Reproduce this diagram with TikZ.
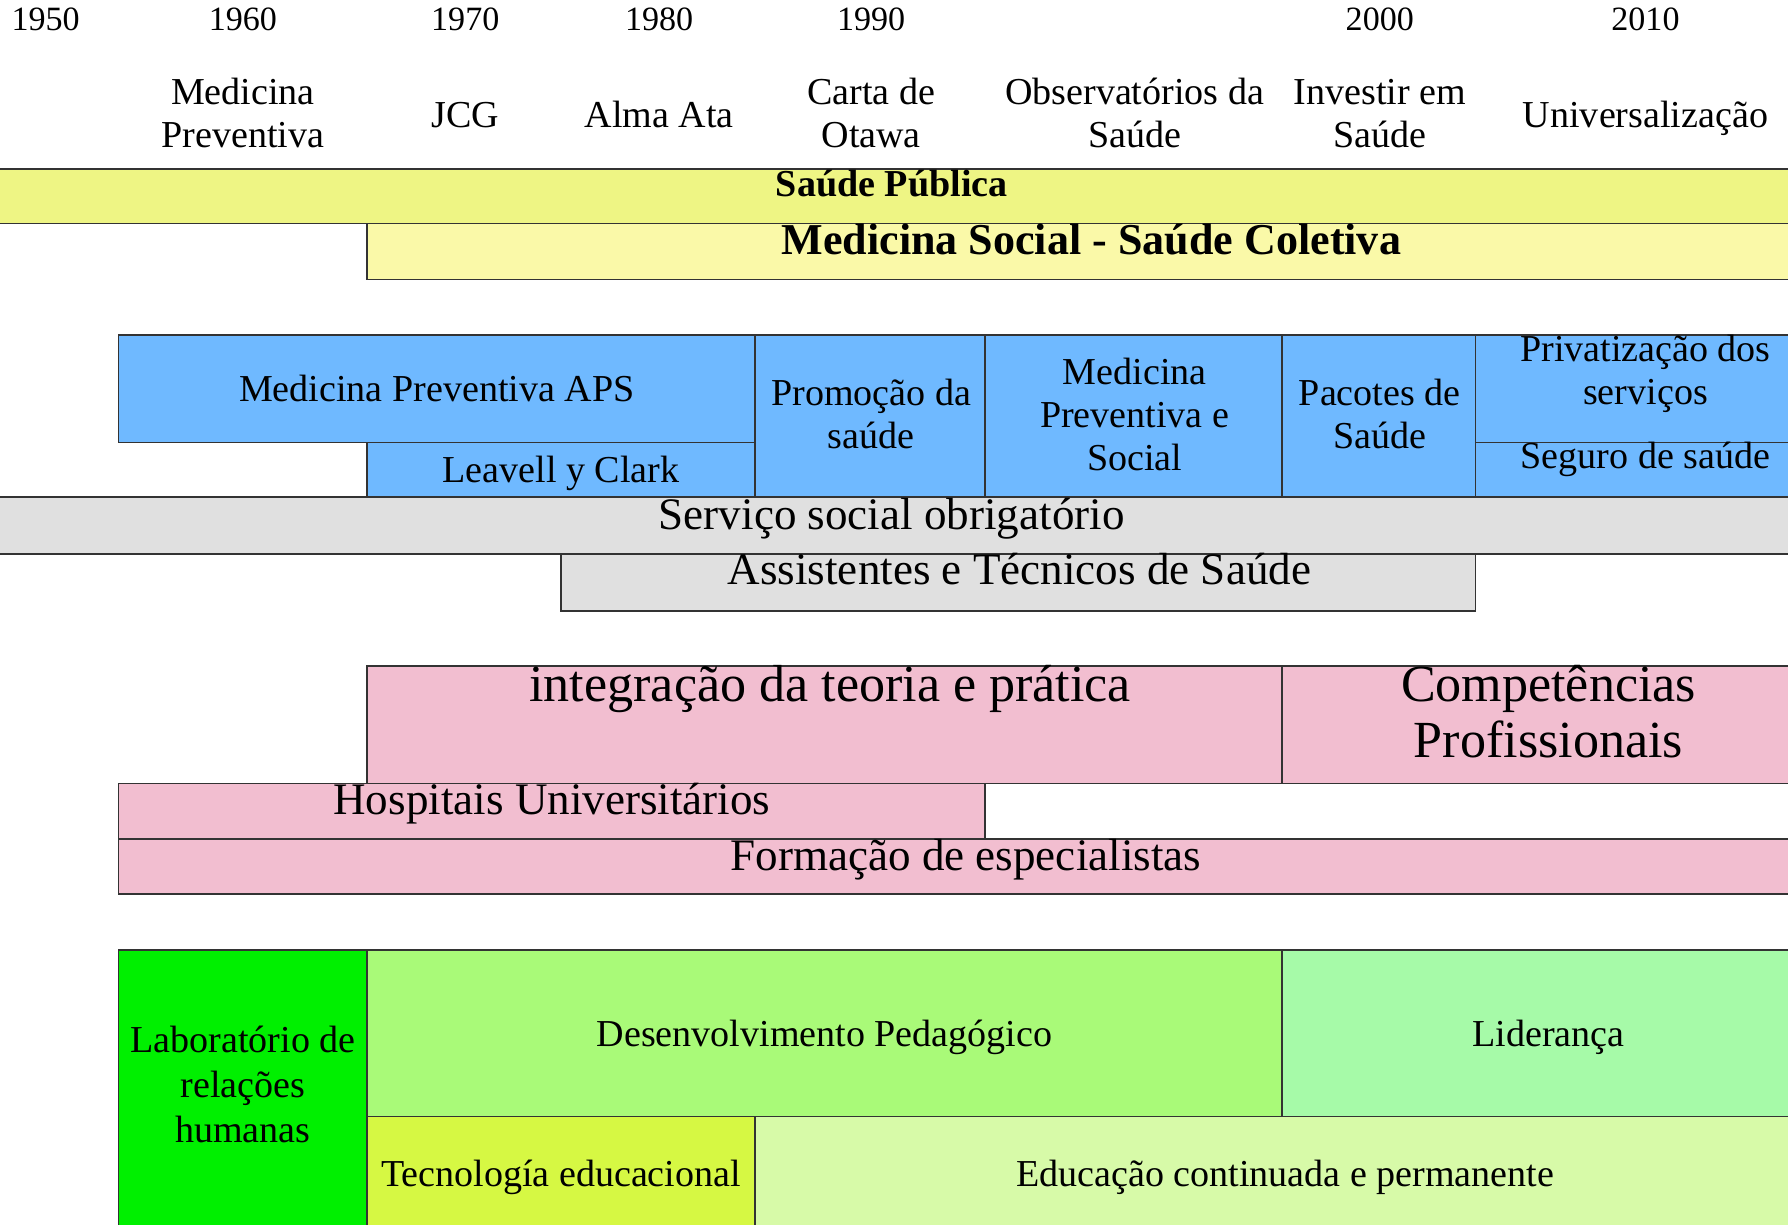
\documentclass[tikz,border=0pt]{standalone}
\usepackage{fontspec}
\setmainfont{Liberation Serif}
\usepackage{tikz}
\definecolor{sp-yellow}{HTML}{EEF584}
\definecolor{ms-yellow}{HTML}{FAF9A8}
\definecolor{aps-blue}{HTML}{6FB9FF}
\definecolor{ss-gray}{HTML}{E0E0E0}
\definecolor{hu-pink}{HTML}{F2BED0}
\definecolor{lab-green}{HTML}{00F000}
\definecolor{dp-green}{HTML}{A9FA78}
\definecolor{lid-green}{HTML}{A6FAA8}
\definecolor{te-green}{HTML}{D6F843}
\definecolor{ec-green}{HTML}{D7FAA8}

\begin{document}
\begin{tikzpicture}[x=0.02cm, y=-0.02cm, font=\fontsize{19}{21.5}\selectfont,
    box/.style={draw=black!80, line width=0.8pt},
    lbl/.style={anchor=base, align=center, inner sep=0pt},
    yr/.style={lbl, font=\fontsize{17}{20}\selectfont},
    mid/.style={lbl, font=\fontsize{22.5}{26}\selectfont},
    big/.style={lbl, font=\fontsize{26}{27.7}\selectfont}]
    \useasboundingbox (0,0) rectangle (1568,1074);
    \clip (0,0) rectangle (1568,1074);

    % years
    \node[yr] (y50) at (40,27) {1950};
    \node[yr] (y60) at (213,27) {1960};
    \node[yr] (y70) at (408,27) {1970};
    \node[yr] (y80) at (578,27) {1980};
    \node[yr] (y90) at (764,27) {1990};
    \node[yr] (y00) at (1210,27) {2000};
    \node[yr] (y10) at (1443,27) {2010};

    % milestones (base = last line)
    \node[lbl] (mp) at (213,129.6) {Medicina\\Preventiva};
    \node[lbl] (jcg) at (408,112) {JCG};
    \node[lbl] (alma) at (578,112) {Alma Ata};
    \node[lbl] (otawa) at (764,129.6) {Carta de\\Otawa};
    \node[lbl] (obs) at (995,129.6) {Observatórios da\\Saúde};
    \node[lbl] (inv) at (1210,129.6) {Investir em\\Saúde};
    \node[lbl] (univ) at (1443,112) {Universalização};

    % saude publica
    \draw[box, fill=sp-yellow] (-10,148) rectangle (1600,196);
    \draw[box, fill=ms-yellow] (322,196) rectangle (1600,245);
    \node[lbl, font=\fontsize{19}{21.5}\selectfont\bfseries] (sp) at (782,172.5) {Saúde Pública};
    \node[lbl, font=\fontsize{22}{26}\selectfont\bfseries] (ms) at (957,223.5) {Medicina Social - Saúde Coletiva};

    % atencao
    \draw[box, fill=aps-blue] (104,294) rectangle (662,388);
    \draw[box, fill=aps-blue] (322,388) rectangle (662,436);
    \draw[box, fill=aps-blue] (662,294) rectangle (864,436);
    \draw[box, fill=aps-blue] (864,294) rectangle (1124,436);
    \draw[box, fill=aps-blue] (1124,294) rectangle (1294,436);
    \draw[box, fill=aps-blue] (1294,294) rectangle (1600,388);
    \draw[box, fill=aps-blue] (1294,388) rectangle (1600,436);
    \node[lbl] (aps) at (383,352) {Medicina Preventiva APS};
    \node[lbl] (lc) at (492,423) {Leavell y Clark};
    \node[lbl] (prom) at (764,393) {Promoção da\\saúde};
    \node[lbl] (mps) at (995,412.7) {Medicina\\Preventiva e\\Social};
    \node[lbl] (pac) at (1210,393) {Pacotes de\\Saúde};
    \node[lbl] (priv) at (1443,354.6) {Privatização dos\\serviços};
    \node[lbl] (seg) at (1443,410.7) {Seguro de saúde};

    % servico social
    \draw[box, fill=ss-gray] (-10,436) rectangle (1600,486);
    \draw[box, fill=ss-gray] (492,486) rectangle (1294,536);
    \node[mid] (sso) at (782,464) {Serviço social obrigatório};
    \node[mid] (ats) at (894,513) {Assistentes e Técnicos de Saúde};

    % formacao
    \draw[box, fill=hu-pink] (322,584) rectangle (1124,687);
    \draw[box, fill=hu-pink] (1124,584) rectangle (1600,687);
    \draw[box, fill=hu-pink] (104,687) rectangle (864,736);
    \draw[box, fill=hu-pink] (104,736) rectangle (1600,784);
    \node[big] (itp) at (728,615.4) {integração da teoria e prática};
    \node[big] (cp) at (1358,664) {Competências\\Profissionais};
    \node[mid] (hu) at (484,714) {Hospitais Universitários};
    \node[mid] (fe) at (847,763) {Formação de especialistas};

    % docencia
    \draw[box, fill=lab-green] (104,833) rectangle (322,1090);
    \draw[box, fill=dp-green] (322,833) rectangle (1124,979);
    \draw[box, fill=lid-green] (1124,833) rectangle (1600,979);
    \draw[box, fill=te-green] (322,979) rectangle (662,1090);
    \draw[box, fill=ec-green] (662,979) rectangle (1600,1090);
    \node[lbl, font=\fontsize{19}{22.5}\selectfont] (lab) at (213,1002) {Laboratório de\\relações\\humanas};
    \node[lbl] (dp) at (723,918) {Desenvolvimento Pedagógico};
    \node[lbl] (lid) at (1358,918) {Liderança};
    \node[lbl] (te) at (492,1040.7) {Tecnología educacional};
    \node[lbl] (ec) at (1127,1040.7) {Educação continuada e permanente};
\end{tikzpicture}
\end{document}
